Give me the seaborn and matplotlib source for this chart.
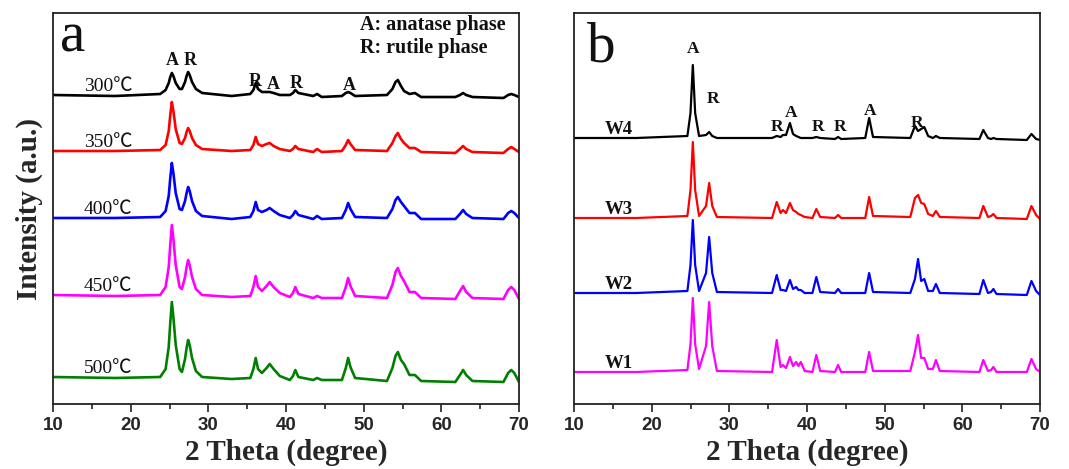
import numpy as np
import matplotlib
matplotlib.use("Agg")
import matplotlib.pyplot as plt
import seaborn as sns

# ---------------- data ----------------
two_theta_a = [10, 18, 23.8, 24.5, 24.9,
               25.1, 25.3, 25.5, 25.8, 26.3,
               26.6, 27.0, 27.2, 27.4, 27.6,
               27.9, 28.4, 29.2, 33, 35.4,
               35.8, 36.1, 36.4, 36.9, 37.5,
               37.9, 38.4, 39.2, 40.5, 40.9,
               41.2, 41.6, 43.5, 44.0, 44.6,
               47.2, 47.7, 48.0, 48.3, 48.9,
               53.0, 53.7, 54.1, 54.4, 54.8,
               55.2, 55.9, 56.6, 57.4, 61.8,
               62.4, 62.8, 63.2, 64.0, 68.0,
               68.6, 69.0, 69.4, 70]
i_300 = [0, -1, 1, 5, 12,
         18, 22, 19, 12, 6,
         6, 13, 19, 23, 20,
         13, 6, 2, -1, 1,
         5, 12, 6, 3, 3,
         3, 2, 0, 0, 2,
         5, 2, -1, 1, -2,
         -1, 2, 3, 2, -1,
         0, 6, 13, 15, 9,
         4, 1, 2, -2, -2,
         0, 2, 0, -2, -3,
         0, 1, 0, -2]
i_350 = [0, 0, 1, 6, 20,
         36, 49, 40, 22, 8,
         7, 13, 19, 23, 20,
         13, 6, 2, 0, 1,
         6, 14, 7, 5, 7,
         8, 5, 2, 0, 2,
         5, 2, -1, 2, -1,
         0, 6, 11, 7, 1,
         0, 8, 15, 18, 12,
         8, 3, 3, -1, -2,
         2, 5, 2, -1, -2,
         2, 4, 2, -1]
i_400 = [0, 0, 1, 7, 22,
         40, 55, 45, 25, 9,
         8, 17, 25, 31, 27,
         17, 7, 2, -1, 1,
         7, 16, 8, 6, 8,
         10, 7, 3, 0, 3,
         7, 3, -1, 2, -1,
         0, 8, 15, 9, 1,
         0, 9, 18, 21, 16,
         12, 5, 5, -1, -1,
         4, 8, 4, 0, -1,
         5, 7, 5, 0]
i_450 = [0, -1, 0, 8, 28,
         50, 70, 56, 30, 8,
         6, 18, 28, 35, 30,
         18, 6, 0, -2, -1,
         8, 19, 8, 4, 9,
         13, 8, 2, -2, 2,
         8, 1, -3, -1, -3,
         -3, 8, 17, 9, -1,
         -3, 10, 23, 27, 19,
         14, 3, 3, -3, -4,
         4, 9, 3, -3, -4,
         5, 8, 5, -4]
i_500 = [0, -1, 0, 8, 30,
         54, 75, 60, 32, 8,
         5, 18, 29, 37, 32,
         19, 6, 0, -2, -1,
         8, 19, 8, 4, 9,
         13, 8, 1, -3, 1,
         7, 0, -3, -1, -3,
         -3, 9, 19, 10, -1,
         -4, 9, 21, 25, 17,
         13, 2, 2, -4, -5,
         2, 7, 2, -4, -5,
         4, 7, 4, -5]
labels_a = ["300℃", "350℃", "400℃", "450℃", "500℃"]

two_theta_b = [10, 18, 24.6, 25.0, 25.3, 25.6, 26.1, 27.0, 27.4, 27.8,
               28.4, 35.5, 36.1, 36.6, 36.9, 37.3, 37.8, 38.2, 38.6, 38.9,
               39.2, 39.7, 40.7, 41.2, 41.7, 43.6, 44.0, 44.4, 47.5, 48.0,
               48.5, 53.3, 53.9, 54.3, 54.7, 55.1, 55.6, 56.2, 56.6, 57.1,
               62.2, 62.7, 63.3, 63.7, 64.0, 64.4, 68.3, 68.9, 69.5, 70]
i_w4 = [0, 0, 2, 25, 73, 25, 2, 3, 6, 2, 0, 0, 2, 1, 3, 3, 15, 4, 2, 1,
        0, 0, 0, 1, 0, -1, 1, -1, 0, 20, 1, 0, 12, 7, 9, 11, 2, 0, 2, 0,
        -1, 8, 0, -1, 0, -1, -2, 4, -1, -2]
i_w3 = [0, 0, 2, 28, 76, 28, 2, 12, 35, 12, 1, 0, 16, 5, 8, 5, 15, 8, 6, 4,
        3, 1, 0, 9, 1, 0, 3, 0, 0, 21, 2, 1, 20, 23, 15, 14, 4, 2, 7, 1,
        0, 12, 1, 2, 4, 0, -1, 12, 3, -1]
i_w2 = [0, 0, 2, 28, 73, 28, 2, 20, 56, 20, 1, 0, 18, 3, 3, 2, 13, 4, 6, 3,
        3, 0, 0, 16, 1, 0, 4, 0, 0, 20, 1, 0, 14, 34, 12, 14, 2, 2, 9, 0,
        -1, 13, 0, 1, 4, -1, -2, 12, 2, -2]
i_w1 = [0, 0, 2, 28, 74, 28, 3, 26, 70, 26, 1, 0, 32, 5, 7, 4, 15, 6, 10, 6,
        10, 1, 0, 17, 1, 0, 7, 0, 0, 20, 1, 1, 20, 37, 14, 14, 3, 3, 12, 1,
        0, 12, 1, 2, 5, 0, 0, 13, 3, 0]
labels_b = ["W4", "W3", "W2", "W1"]

xticks_major = [10, 20, 30, 40, 50, 60, 70]
xticks_minor = [15, 25, 35, 45, 55, 65]

# peak annotations (label, 2theta, height)
peaks_a = [("A", 25.3, 339), ("R", 27.6, 339), ("R", 36.0, 318),
           ("A", 38.4, 315), ("R", 41.3, 316), ("A", 48.1, 314)]
peaks_b = [("A", 25.3, 351), ("R", 27.9, 301), ("R", 36.1, 273),
           ("A", 38.0, 287), ("R", 41.4, 273), ("R", 44.2, 273),
           ("A", 48.1, 289), ("R", 54.2, 277)]

# ---------------- layout / style ----------------
sns.set_theme(style="ticks")
plt.rcParams["font.family"] = ["Liberation Serif", "Noto Sans CJK SC", "DejaVu Sans"]

W, H = 1069, 469
fig = plt.figure(figsize=(W / 100, H / 100), dpi=100)
ax_a = fig.add_axes([53 / W, 65 / H, 466 / W, 391 / H])
ax_b = fig.add_axes([574 / W, 65 / H, 466 / W, 391 / H])

offsets_a = [309, 253, 186, 109, 27]
offsets_b = [266, 186, 111, 32]
colors_a = ["#000000", "#ff0000", "#0000ff", "#ff00ff", "#008000"]
colors_b = ["#000000", "#ff0000", "#0000ff", "#ff00ff"]
series_a = [i_300, i_350, i_400, i_450, i_500]
series_b = [i_w4, i_w3, i_w2, i_w1]

for y, off, c, lab in zip(series_a, offsets_a, colors_a, labels_a):
    sns.lineplot(x=two_theta_a, y=np.asarray(y) + off, ax=ax_a, color=c,
                 linewidth=1.9, sort=False)
    ax_a.text(14.0, off + 4, lab, fontsize=14, va="baseline", ha="left",
              color="#111111")

for y, off, c, lab in zip(series_b, offsets_b, colors_b, labels_b):
    sns.lineplot(x=two_theta_b, y=np.asarray(y) + off, ax=ax_b, color=c,
                 linewidth=1.6, sort=False)
    ax_b.text(14.0, off + 4, lab, fontsize=13.5, fontweight="bold",
              va="baseline", ha="left", color="#111111")

for lab, x, yy in peaks_a:
    ax_a.text(x, yy, lab, fontsize=13, fontweight="bold", ha="center",
              va="baseline", color="#111111")
for lab, x, yy in peaks_b:
    ax_b.text(x, yy, lab, fontsize=12.5, fontweight="bold", ha="center",
              va="baseline", color="#111111")

ax_a.text(49.5, 374, "A: anatase phase", fontsize=14.5, fontweight="bold",
          ha="left", va="baseline", color="#111111")
ax_a.text(49.5, 351, "R: rutile phase", fontsize=14.5, fontweight="bold",
          ha="left", va="baseline", color="#111111")
ax_a.text(10.9, 352, "a", fontsize=41, ha="left", va="baseline", color="#111111")
ax_b.text(11.7, 342, "b", fontsize=41, ha="left", va="baseline", color="#111111")

for ax in (ax_a, ax_b):
    ax.set_xlim(10, 70)
    ax.set_ylim(0, 391)
    ax.set_yticks([])
    ax.set_xticks(xticks_major)
    ax.set_xticks(xticks_minor, minor=True)
    ax.set_xticklabels([str(t) for t in xticks_major], fontfamily="Liberation Sans",
                       fontweight="bold", fontsize=13.5)
    ax.tick_params(axis="x", which="major", direction="out", length=6, width=1.2,
                   color="#222222", pad=3)
    ax.tick_params(axis="x", which="minor", direction="out", length=3.5, width=1.2,
                   color="#222222")
    for s in ax.spines.values():
        s.set_color("#222222")
        s.set_linewidth(1.3)
    ax.set_xlabel("2 Theta (degree)", fontsize=21, fontweight="bold", labelpad=4)
    ax.set_ylabel("")

ax_a.set_ylabel("Intensity (a.u.)", fontsize=21, fontweight="bold", labelpad=7)

fig.savefig("out.png", dpi=100)
